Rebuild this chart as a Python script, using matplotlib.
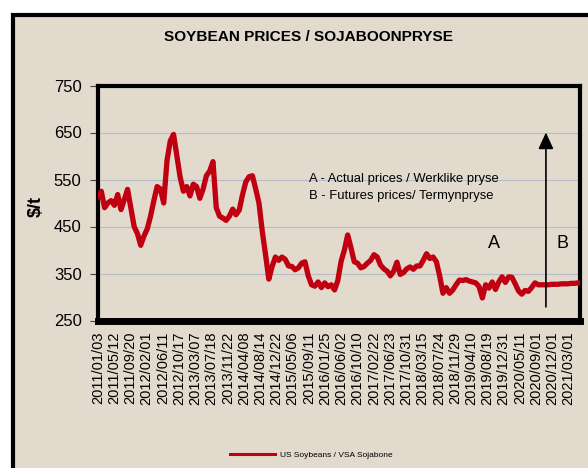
# soybean prices chart, actual + futures
import numpy as np
import matplotlib
matplotlib.use("Agg")
import matplotlib.pyplot as plt
from matplotlib.patches import Rectangle, FancyArrowPatch

plt.rcParams['font.family'] = ['Liberation Sans Narrow', 'Liberation Sans', 'DejaVu Sans']

# tick labels on the category axis
date_labels = ["2011/01/03", "2011/05/12", "2011/09/20", "2012/02/01", "2012/06/11",
               "2012/10/17", "2013/03/07", "2013/07/18", "2013/11/22", "2014/04/08",
               "2014/08/14", "2014/12/22", "2015/05/06", "2015/09/11", "2016/01/25",
               "2016/06/02", "2016/10/10", "2017/02/22", "2017/06/23", "2017/10/31",
               "2018/03/15", "2018/07/24", "2018/11/29", "2019/04/10", "2019/08/19",
               "2019/12/31", "2020/05/11", "2020/09/01", "2020/12/01", "2021/03/01"]

# actual prices ($/t)
actual = [514, 525, 490, 500, 505, 495, 518, 486, 507, 529, 489,
          450, 435, 410, 430, 445, 472, 505, 535, 530, 500,
          590, 632, 646, 600, 555, 525, 535, 515, 540, 535,
          510, 530, 558, 568, 588, 490, 472, 468, 463, 472,
          487, 475, 485, 518, 545, 556, 558, 530, 500, 440,
          390, 338, 365, 385, 378, 385, 380, 366, 365, 358,
          362, 372, 375, 345, 326, 323, 332, 320, 330, 322,
          326, 315, 335, 376, 400, 432, 405, 375, 372, 362,
          365, 372, 378, 390, 385, 368, 360, 355, 345, 355,
          374, 348, 352, 360, 364, 359, 366, 366, 378, 392,
          382, 385, 375, 345, 308, 320, 308, 315, 326, 336,
          335, 337, 334, 332, 330, 322, 298, 326, 319, 332,
          316, 332, 343, 331, 343, 342, 328, 313, 306, 314,
          312, 320, 330, 326, 326, 326]
# futures prices ($/t)
futures = [326, 327, 327, 327, 328, 328, 328, 329, 329, 330, 330]

prices = np.array(actual + futures)
pts_per_label = 4.94
x = np.arange(len(prices)) / pts_per_label

beige = '#e2dacd'
red = '#c00010'

fig = plt.figure(figsize=(5.88, 4.68), dpi=100, facecolor='white')

# outer panel with black frame (runs off the right and bottom edge)
fig.add_artist(Rectangle((12.5 / 588, -0.05), 1.1, (1 - 14.5 / 468) + 0.05,
                         transform=fig.transFigure, facecolor=beige,
                         edgecolor='black', lw=3, zorder=0))

ax = fig.add_axes([98 / 588, 1 - 320.5 / 468, 482 / 588, 235 / 468])
ax.set_facecolor('none')
ax.plot(x, prices, color=red, lw=3.8, solid_joinstyle='round',
        label='US Soybeans / VSA Sojabone', zorder=3)

ax.set_xlim(0, 29.7)
ax.set_ylim(250, 750)
ax.set_yticks(np.arange(250, 751, 100))
ax.set_xticks(np.arange(len(date_labels)))
ax.set_xticklabels(date_labels, rotation=90)
ax.tick_params(axis='y', length=5.8, width=0.8, color='#444444', pad=6, labelsize=12)
ax.tick_params(axis='x', length=0, pad=8, labelsize=10.5)

ax.yaxis.grid(True, color='#b8bcc6', lw=0.8)
ax.set_axisbelow(True)
for side in ['top', 'left', 'right']:
    ax.spines[side].set_linewidth(3)
ax.spines['bottom'].set_linewidth(5)

# A / B split marker
arrow = FancyArrowPatch((27.6, 279), (27.6, 650), arrowstyle='-|>,head_length=0.5,head_width=0.23',
                        mutation_scale=20, lw=1.2, color='black', shrinkA=0, shrinkB=0, zorder=4)
ax.add_patch(arrow)

fig.text(0.5247, 0.920, 'SOYBEAN PRICES / SOJABOONPRYSE', ha='center', va='center',
         fontsize=11.1, fontweight='bold')
fig.text(0.0624, 0.5577, '$/t', rotation=90, ha='center', va='center',
         fontsize=13, fontweight='bold')
fig.text(309 / 588, 1 - 181.7 / 468, 'A - Actual prices / Werklike pryse',
         ha='left', va='baseline', fontsize=9.4)
fig.text(309 / 588, 1 - 199 / 468, 'B - Futures prices/ Termynpryse',
         ha='left', va='baseline', fontsize=9.4)
fig.text(494 / 588, 1 - 243.5 / 468, 'A', ha='center', va='center', fontsize=13)
fig.text(562 / 588, 1 - 243.5 / 468, 'B', ha='center', va='center', fontsize=13)

leg = fig.legend(loc='center left', bbox_to_anchor=(230 / 588, 1 - 455 / 468), frameon=False,
                 fontsize=6, handlelength=5.4, handletextpad=0.6, borderpad=0, borderaxespad=0)
leg.get_lines()[0].set_linewidth(2.2)

plt.savefig('out.png', dpi=100, facecolor='white')
